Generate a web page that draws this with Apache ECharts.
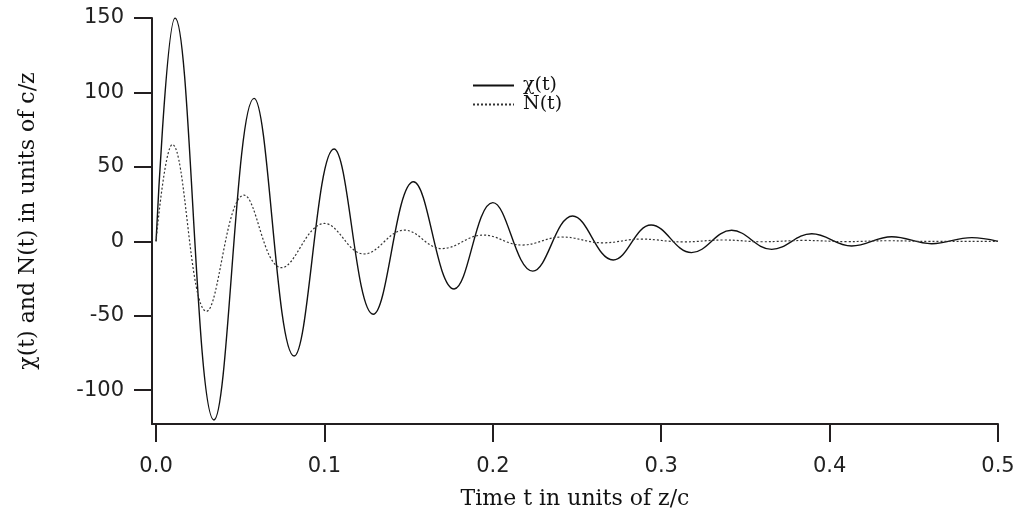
<!DOCTYPE html>
<html>
<head>
<meta charset="utf-8">
<script src="https://cdn.jsdelivr.net/npm/echarts@6/dist/echarts.min.js"></script>
<style>
  html, body { margin: 0; padding: 0; background: #fff; }
  #chart { width: 1020px; height: 515px; }
</style>
</head>
<body>
<div id="chart"></div>
<script>
// chi(t): peaks and troughs
var tChi = [0, 0.0113, 0.0344, 0.0582, 0.0820, 0.1057, 0.1290, 0.1529, 0.1770, 0.2000,
    0.2237, 0.2474, 0.2715, 0.2940, 0.3180, 0.3418, 0.3656, 0.3894, 0.4131, 0.4369,
    0.4606, 0.4844, 0.5];
var chiValues = [0, 150, -120, 96, -77, 62, -49, 40, -32, 26,
    -20, 17, -12.5, 11, -7.6, 7.4, -5.4, 5.1, -3.1, 3.1,
    -1.6, 2.5, 0];

// N(t)
var tN = [0, 0.0097, 0.0300, 0.0523, 0.0746, 0.1000, 0.1235, 0.1475, 0.1697, 0.1942,
    0.2172, 0.2410, 0.2654, 0.2880, 0.3130, 0.3370, 0.3600, 0.3850, 0.4100, 0.4350,
    0.4600, 0.5];
var nValues = [0, 65, -47, 31, -17.7, 12, -8.5, 7.5, -4.9, 4.2,
    -2.5, 2.9, -1, 1.5, -0.4, 0.9, -0.3, 0.6, -0.2, 0.4,
    -0.1, 0];

var xTicks = [0, 0.1, 0.2, 0.3, 0.4, 0.5];
var yTicks = [-100, -50, 0, 50, 100, 150];

function pairs(xs, ys) {
    var out = [];
    for (var i = 0; i < xs.length; i++) {
        out.push([xs[i], ys[i]]);
    }
    return out;
}

var axisColor = '#231f20';
var serif = 'DejaVu Serif';

var myChart = echarts.init(document.getElementById('chart'));
var option = {
    animation: false,
    grid: {
        left: 152,
        right: 22,
        top: 18,
        bottom: 91
    },
    legend: {
        orient: 'vertical',
        left: 467,
        top: 71,
        itemWidth: 41,
        itemHeight: 10,
        itemGap: 0,
        itemStyle: { opacity: 0 },
        textStyle: {
            fontFamily: serif,
            fontSize: 19,
            lineHeight: 15,
            color: '#111',
            padding: [0, 0, 0, 4]
        },
        data: ['χ(t)', 'N(t)']
    },
    xAxis: {
        type: 'value',
        min: -0.0024,
        max: 0.5,
        name: 'Time t in units of z/c',
        nameLocation: 'middle',
        nameGap: 64,
        nameTextStyle: { fontFamily: serif, fontSize: 22, color: '#111' },
        axisLine: { onZero: false, lineStyle: { color: axisColor, width: 2 } },
        axisTick: {
            customValues: xTicks,
            length: 18,
            lineStyle: { color: axisColor, width: 2 }
        },
        axisLabel: {
            customValues: xTicks,
            margin: 32,
            fontFamily: 'DejaVu Sans',
            fontSize: 21,
            color: '#222',
            formatter: function (v) { return v.toFixed(1); }
        },
        splitLine: { show: false }
    },
    yAxis: {
        type: 'value',
        min: -122.7,
        max: 150,
        name: 'χ(t) and N(t) in units of c/z',
        nameLocation: 'middle',
        nameGap: 113,
        nameTextStyle: { fontFamily: serif, fontSize: 22, color: '#111' },
        axisLine: { show: true, onZero: false, lineStyle: { color: axisColor, width: 2 } },
        axisTick: {
            show: true,
            customValues: yTicks,
            length: 18,
            lineStyle: { color: axisColor, width: 2 }
        },
        axisLabel: {
            customValues: yTicks,
            margin: 28,
            fontFamily: 'DejaVu Sans',
            fontSize: 21,
            color: '#222'
        },
        splitLine: { show: false }
    },
    series: [
        {
            name: 'χ(t)',
            type: 'line',
            smooth: 0.4,
            showSymbol: false,
            symbol: 'none',
            data: pairs(tChi, chiValues),
            lineStyle: { color: '#111', width: 1.4 },
            itemStyle: { color: '#111' }
        },
        {
            name: 'N(t)',
            type: 'line',
            smooth: 0.4,
            showSymbol: false,
            symbol: 'none',
            data: pairs(tN, nValues),
            lineStyle: { color: '#333', width: 1.2, type: [2, 2] },
            itemStyle: { color: '#333' }
        }
    ]
};
myChart.setOption(option);
</script>
</body>
</html>
